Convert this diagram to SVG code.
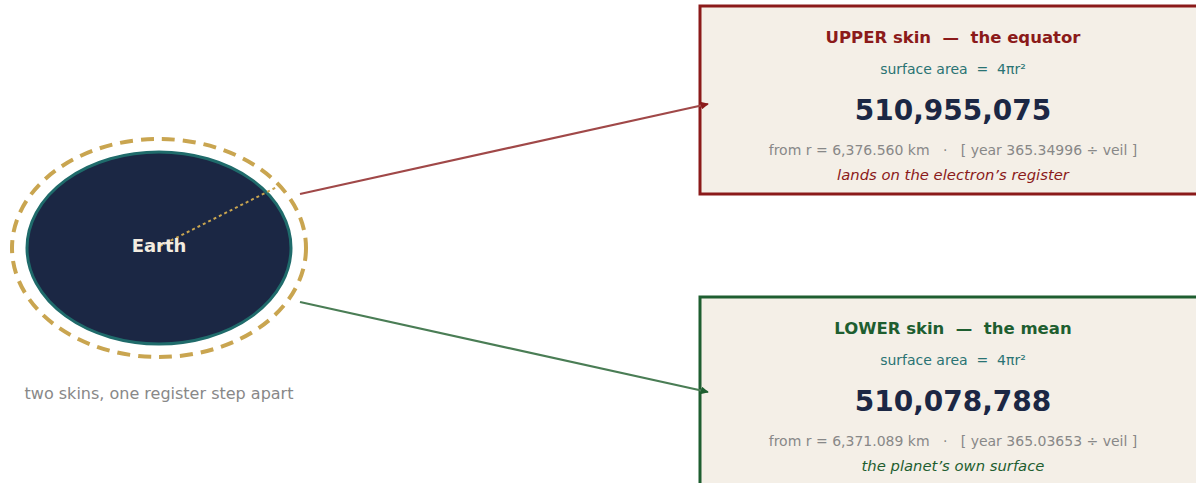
<svg xmlns="http://www.w3.org/2000/svg" width="1196" height="483" viewBox="0 0 1196 483">
<defs>
<style>
text{font-family:"DejaVu Sans",Verdana,sans-serif;text-anchor:middle;white-space:pre}
.title{font-size:16.5px;font-weight:bold}
.sa{font-size:14px;fill:#2a7373}
.num{font-size:28px;font-weight:bold;fill:#1b2744}
.from{font-size:14px;fill:#888888}
.note{font-size:14.8px;font-style:italic}
.box{fill:#f4efe7;stroke-width:3}
</style>
<marker id="ahU" viewBox="0 0 10 10" refX="9" refY="5" markerWidth="8" markerHeight="8" markerUnits="userSpaceOnUse" orient="auto"><path d="M0,0L10,5L0,10z" fill="#8b1a1a"/></marker>
<marker id="ahL" viewBox="0 0 10 10" refX="9" refY="5" markerWidth="8" markerHeight="8" markerUnits="userSpaceOnUse" orient="auto"><path d="M0,0L10,5L0,10z" fill="#1e5e30"/></marker>
</defs>
<rect width="1196" height="483" fill="#ffffff"/>
<g id="earth">
<ellipse cx="159" cy="248" rx="147" ry="109" fill="none" stroke="#c9a550" stroke-width="4" stroke-dasharray="13 8"/>
<ellipse cx="159" cy="248" rx="132" ry="96" fill="#1b2744" stroke="#1f6b6b" stroke-width="3"/>
<line x1="160" y1="246" x2="277" y2="187" stroke="#c9a550" stroke-width="2" stroke-dasharray="3 3"/>
<text x="159" y="252" style="font-size:18px;font-weight:bold;fill:#f3ece0">Earth</text>
<text x="159" y="399" style="font-size:16px;fill:#888888">two skins, one register step apart</text>
</g>
<g id="upper">
<rect class="box" x="700" y="6" width="510" height="188" stroke="#8b1a1a"/>
<text class="title" x="953" y="43" fill="#8b1a1a">UPPER skin  —  the equator</text>
<text class="sa" x="953" y="74">surface area  =  4πr²</text>
<text class="num" x="953" y="120">510,955,075</text>
<text class="from" x="953" y="155">from r = 6,376.560 km   ·   [ year 365.34996 ÷ veil ]</text>
<text class="note" x="953" y="180" fill="#8b1a1a">lands on the electron’s register</text>
</g>
<g id="lower">
<rect class="box" x="700" y="297" width="510" height="200" stroke="#1e5e30"/>
<text class="title" x="953" y="334" fill="#1e5e30">LOWER skin  —  the mean</text>
<text class="sa" x="953" y="365">surface area  =  4πr²</text>
<text class="num" x="953" y="411">510,078,788</text>
<text class="from" x="953" y="446">from r = 6,371.089 km   ·   [ year 365.03653 ÷ veil ]</text>
<text class="note" x="953" y="471" fill="#1e5e30">the planet’s own surface</text>
</g>
<g id="connectors">
<line x1="300" y1="194" x2="708" y2="104" stroke="#a04848" stroke-width="2.2" marker-end="url(#ahU)"/>
<line x1="300" y1="302" x2="708" y2="392" stroke="#4a7d55" stroke-width="2.2" marker-end="url(#ahL)"/>
</g>
</svg>
